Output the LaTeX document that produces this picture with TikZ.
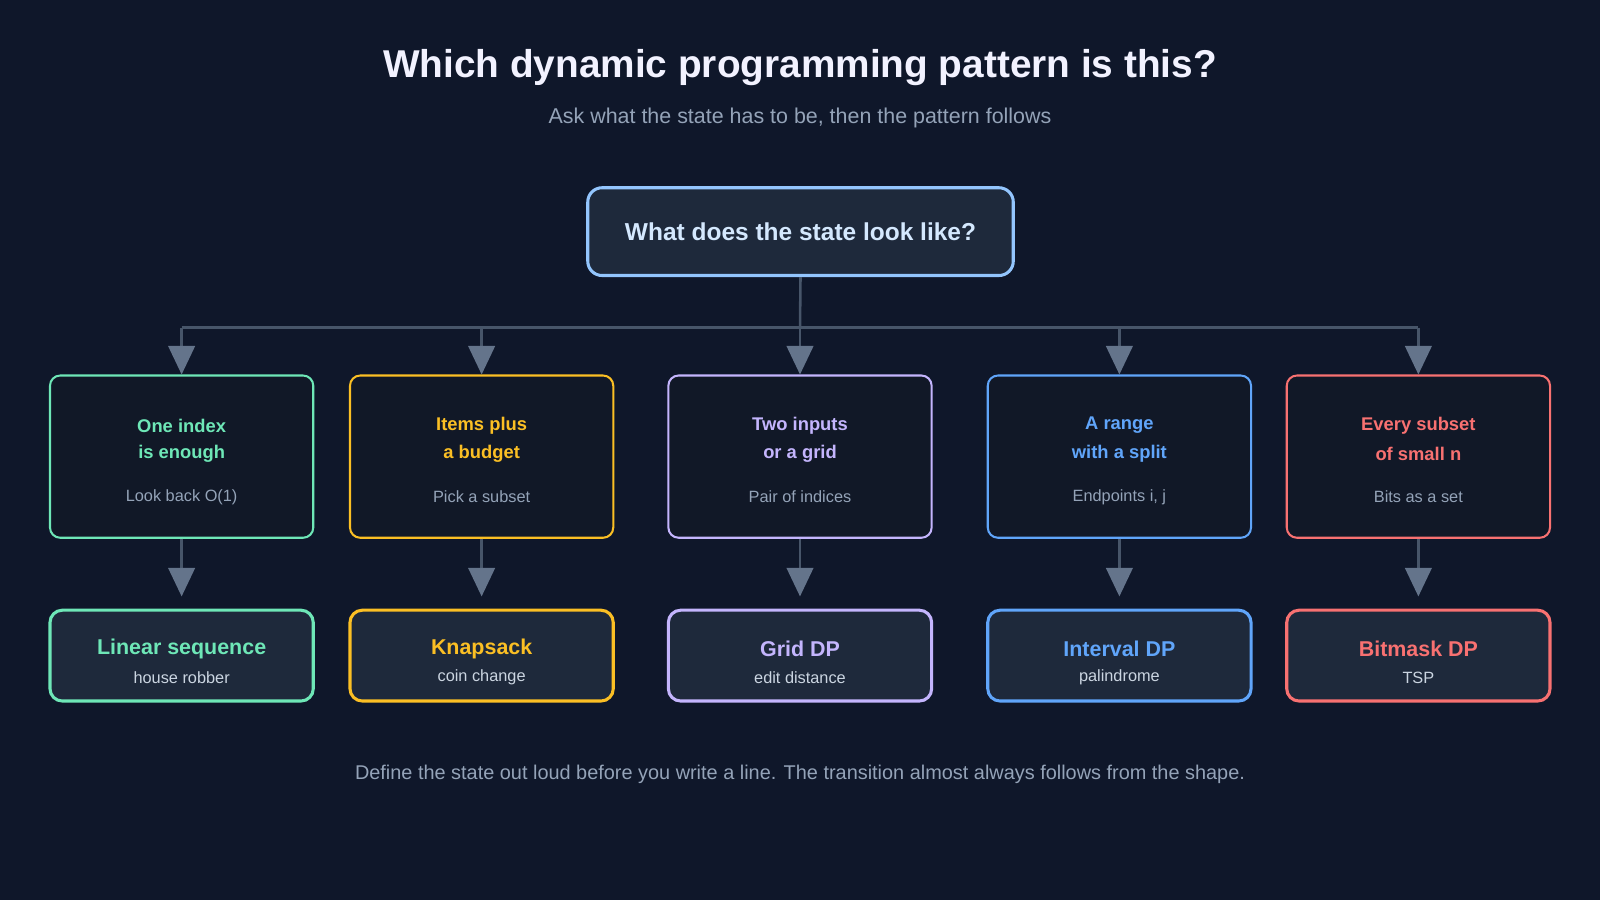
\documentclass[tikz,border=0pt]{standalone}
\usepackage{fontspec}
\setmainfont{Liberation Sans}
\usetikzlibrary{arrows.meta,positioning}
\definecolor{bg}{HTML}{0F172A}
\definecolor{panel}{HTML}{1E293B}
\definecolor{inner}{HTML}{111827}
\definecolor{wire}{HTML}{475569}
\definecolor{tip}{HTML}{64748B}
\definecolor{muted}{HTML}{94A3B8}
\definecolor{soft}{HTML}{CBD5E1}
\definecolor{cgreen}{HTML}{6EE7B7}
\definecolor{cyellow}{HTML}{FBBF24}
\definecolor{cpurple}{HTML}{C4B5FD}
\definecolor{cblue}{HTML}{60A5FA}
\definecolor{cred}{HTML}{F87171}
\definecolor{croot}{HTML}{93C5FD}
\newcommand{\fs}[1]{\fontsize{#1}{#1}\selectfont}
\tikzset{
  flow/.style={wire,line width=2.5pt,-{Triangle[length=28pt,width=26pt,color=tip]}},
  case/.style={draw=#1,line width=2pt,fill=inner,rounded corners=10pt,minimum width=258pt,minimum height=159pt},
  result/.style={draw=#1,line width=3pt,fill=panel,rounded corners=12pt,minimum width=258pt,minimum height=89pt},
}
\begin{document}
\begin{tikzpicture}[x=1pt,y=-1pt]
  \fill[bg] (0,0) rectangle (1568,882);
  \useasboundingbox (0,0) rectangle (1568,882);

  \node[text=white!95!blue,font=\bfseries\fs{38}] (title) at (784,66) {Which dynamic programming pattern is this?};
  \node[text=muted,font=\fs{21}] (subtitle) at (784,116) {Ask what the state has to be, then the pattern follows};

  \node[draw=croot,line width=3pt,fill=panel,rounded corners=14pt,minimum width=417pt,minimum height=86pt,
        text=croot!40!white,font=\bfseries\fs{24}] (root) at (784.5,227) {What does the state look like?};
  \coordinate (hub) at (784,321);
  \draw[wire,line width=2.5pt] (root.south) -- (hub);
  \draw[wire,line width=2.5pt] (178,321) -- (1390,321);

  \foreach \i/\x/\col/\ta/\tb/\sub/\res/\ex in {
      1/178/cgreen/One index/is enough/Look back O(1)/Linear sequence/house robber,
      2/472/cyellow/Items plus/a budget/Pick a subset/Knapsack/coin change,
      3/784/cpurple/Two inputs/or a grid/Pair of indices/Grid DP/edit distance,
      4/1097/cblue/A range/with a split/{Endpoints i, j}/Interval DP/palindrome,
      5/1390/cred/Every subset/of small n/Bits as a set/Bitmask DP/TSP} {
    \node[case=\col] (m\i) at (\x,447.5) {};
    \node[text=\col,font=\bfseries\fs{18}] (m\i a) at (\x,417) {\ta};
    \node[text=\col,font=\bfseries\fs{18}] (m\i b) at (\x,445) {\tb};
    \node[text=muted,font=\fs{16}] (m\i c) at (\x,487) {\sub};
    \node[result=\col] (r\i) at (\x,642.5) {};
    \node[text=\col,font=\bfseries\fs{21}] (r\i a) at (\x,636) {\res};
    \node[text=soft,font=\fs{16}] (r\i b) at (\x,664) {\ex};
    \coordinate (t\i) at (\x,321);
    \draw[flow] (t\i) -- (m\i.north);
    \draw[flow] (m\i.south) -- ([yshift=12pt]r\i.north);
  }

  \node[text=muted,font=\fs{19.5}] (footer) at (784,759) {Define the state out loud before you write a line. The transition almost always follows from the shape.};
\end{tikzpicture}
\end{document}
